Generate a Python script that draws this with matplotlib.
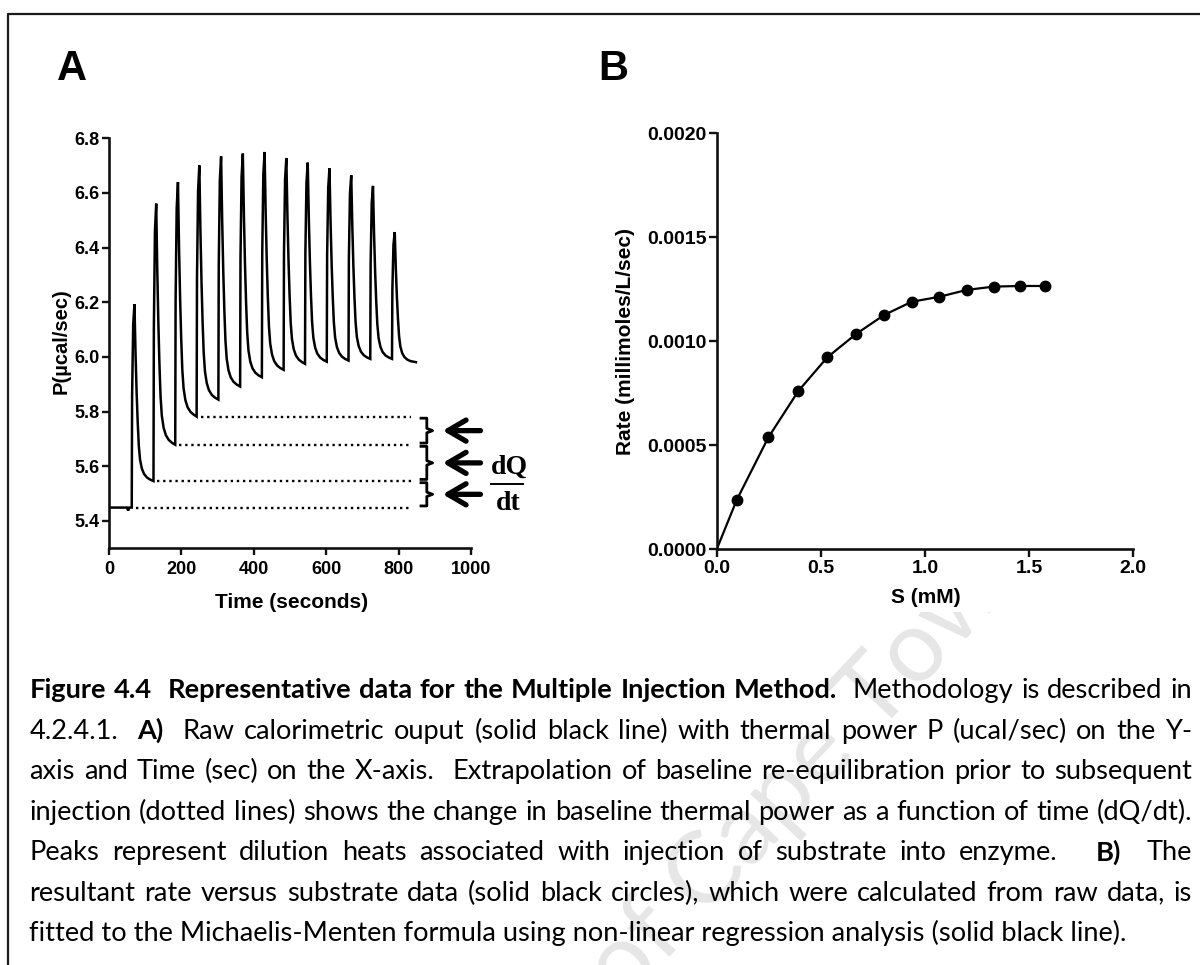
import matplotlib
matplotlib.use("Agg")
import matplotlib.pyplot as plt
from matplotlib import font_manager
from matplotlib.patches import Rectangle
from matplotlib.lines import Line2D

# ---------------- Panel A data: raw calorimetric output ----------------
injection_time = [63, 123, 183, 242, 302, 362, 422, 482, 541, 601, 661, 721, 781]
peak_power = [6.193, 6.561, 6.640, 6.701, 6.734, 6.744, 6.750, 6.728, 6.711,
              6.690, 6.665, 6.626, 6.457]
baseline_after = [5.546, 5.679, 5.782, 5.844, 5.892, 5.926, 5.953, 5.975, 5.983,
                  5.987, 5.993, 5.993, 5.981]
initial_time = [0, 50, 53, 56]
initial_power = [5.449, 5.449, 5.438, 5.449]
run_end_time = 847
# shape of one injection: offsets in s, fraction of peak height
rise_offset = [1.0, 4.0, 7.5]
rise_fraction = [0.55, 0.90, 1.0]
decay_offset = [10.5, 13.5, 16.5, 19.5, 23, 28, 34, 42, 51]
decay_fraction = [0.72, 0.50, 0.33, 0.20, 0.12, 0.07, 0.04, 0.02, 0.008]
dotted_levels = [5.449, 5.546, 5.679, 5.782]   # extrapolated baselines
a_xticks = [0, 200, 400, 600, 800, 1000]
a_yticks = [5.4, 5.6, 5.8, 6.0, 6.2, 6.4, 6.6, 6.8]

# ---------------- Panel B data: rate vs substrate ----------------
substrate_mM = [0.096, 0.248, 0.392, 0.531, 0.669, 0.803, 0.936, 1.069, 1.200,
                1.331, 1.456, 1.576]
rate = [0.000237, 0.000538, 0.000761, 0.000923, 0.001035, 0.001126, 0.001190,
        0.001214, 0.001247, 0.001263, 0.001266, 0.001266]
fit_S = [0.0, 0.096, 0.248, 0.392, 0.531, 0.669, 0.803, 0.936, 1.069, 1.200,
         1.331, 1.456, 1.576]
fit_rate = [0.0, 0.000237, 0.000538, 0.000761, 0.000923, 0.001035, 0.001126,
            0.001190, 0.001214, 0.001247, 0.001263, 0.001266, 0.001266]
b_xticks = [0.0, 0.5, 1.0, 1.5, 2.0]
b_yticks = [0.0, 0.0005, 0.0010, 0.0015, 0.0020]

caption_lines = [
    "**Figure 4.4  Representative data for the Multiple Injection Method.**  Methodology is described in",
    "4.2.4.1.  **A)**  Raw calorimetric ouput (solid black line) with thermal power P (ucal/sec) on the Y-",
    "axis and Time (sec) on the X-axis.  Extrapolation of baseline re-equilibration prior to subsequent",
    "injection (dotted lines) shows the change in baseline thermal power as a function of time (dQ/dt).",
    "Peaks represent dilution heats associated with injection of substrate into enzyme.   **B)**  The",
    "resultant rate versus substrate data (solid black circles), which were calculated from raw data, is",
    "fitted to the Michaelis-Menten formula using non-linear regression analysis (solid black line).",
]

# ---------------- fonts ----------------
names = {f.name for f in font_manager.fontManager.ttflist}
SANS = 'Liberation Sans' if 'Liberation Sans' in names else 'DejaVu Sans'
CAP = 'Lato' if 'Lato' in names else 'DejaVu Sans'
SERIF = 'Liberation Serif' if 'Liberation Serif' in names else 'DejaVu Serif'

W, H = 1200, 965
fig = plt.figure(figsize=(W / 100, H / 100), dpi=100)


def fx(px):
    return px / W


def fy(py):
    return 1 - py / H


# ---------------- watermark (partly hidden behind the opaque chart area) ----------------
fig.text(fx(815), fy(760), 'of Cape Town', rotation=47, rotation_mode='anchor',
         ha='center', va='center', fontsize=72, color='#e6e6e6', family=CAP,
         zorder=-5)
fig.add_artist(Rectangle((fx(8), fy(612)), 1 - fx(8), fy(13.5) - fy(612),
                         transform=fig.transFigure, facecolor='white',
                         edgecolor='none', zorder=-4))

# ---------------- frame ----------------
fig.add_artist(Line2D([fx(8), fx(8), fx(1200)], [fy(965), fy(13.5), fy(13.5)],
                      transform=fig.transFigure, color='#1a1a1a', lw=1.6))

# ---------------- Panel A ----------------
axA = fig.add_axes([fx(108.9), fy(548.3), (471.4 - 108.9) / W, (548.3 - 138.3) / H])

t_trace = list(initial_time)
P_trace = list(initial_power)
prev = initial_power[-1]
for i, (t0, pk, tr) in enumerate(zip(injection_time, peak_power, baseline_after)):
    t_trace.append(t0)
    P_trace.append(prev)
    for dt, f in zip(rise_offset, rise_fraction):
        t_trace.append(t0 + dt)
        P_trace.append(prev + f * (pk - prev))
    for dt, f in zip(decay_offset, decay_fraction):
        t_trace.append(t0 + dt)
        P_trace.append(tr + f * (pk - tr))
    t_next = injection_time[i + 1] if i + 1 < len(injection_time) else run_end_time
    t_trace.append(t_next)
    P_trace.append(tr)
    prev = tr

axA.plot(t_trace, P_trace, color='black', lw=1.8, solid_joinstyle='miter')
axA.set_xlim(0, 1000)
axA.set_ylim(5.3, 6.8)

# dotted extrapolated baselines
for i, lvl in enumerate(dotted_levels):
    axA.plot([injection_time[i] + 11, 833], [lvl, lvl], color='black', lw=1.7,
             ls=(0, (1, 1.6)), clip_on=False)

# brackets and arrows
for lower, upper in zip(dotted_levels[:-1], dotted_levels[1:]):
    top = upper - 0.006
    bot = lower + 0.006
    mid = (top + bot) / 2
    axA.plot([861, 877, 877, 893, 877, 877, 861],
             [top, top, mid + 0.008, mid, mid - 0.008, bot, bot],
             color='black', lw=2.0, clip_on=False, solid_joinstyle='round')
    axA.annotate('', xy=(921, mid), xytext=(1025, mid), xycoords='data',
                 annotation_clip=False,
                 arrowprops=dict(arrowstyle='->,head_length=0.65,head_width=0.38',
                                 lw=3.8, color='black', shrinkA=0, shrinkB=0,
                                 mutation_scale=20))

axA.text(1106, 5.571, 'dQ', ha='center', va='baseline', fontsize=20,
         family=SERIF, fontweight='bold', clip_on=False)
axA.text(1103, 5.439, 'dt', ha='center', va='baseline', fontsize=20,
         family=SERIF, fontweight='bold', clip_on=False)
axA.plot([1054, 1142], [5.537, 5.537], color='black', lw=1.4, clip_on=False)

axA.set_xticks(a_xticks, labels=[f"{v:g}" for v in a_xticks], fontsize=13,
               fontweight='bold', family=SANS)
axA.set_yticks(a_yticks, labels=[f"{v:.1f}" for v in a_yticks], fontsize=13,
               fontweight='bold', family=SANS)
axA.set_xlabel('Time (seconds)', fontsize=15, fontweight='bold', family=SANS,
               va='center')
axA.xaxis.set_label_coords(0.505, -0.133)
axA.set_ylabel('P(µcal/sec)', fontsize=14.5, fontweight='bold', family=SANS,
               va='center')
axA.yaxis.set_label_coords(-0.132, 0.506)

# ---------------- Panel B ----------------
axB = fig.add_axes([fx(716.7), fy(549.3), (1133.3 - 716.7) / W, (549.3 - 133.3) / H])
axB.plot(fit_S, fit_rate, color='black', lw=1.6)
axB.plot(substrate_mM, rate, 'o', color='black', ms=7.5, clip_on=False)
axB.set_xlim(0, 2.0)
axB.set_ylim(0, 0.0020)
axB.set_xticks(b_xticks, labels=[f"{v:.1f}" for v in b_xticks], fontsize=14,
               fontweight='bold', family=SANS)
axB.set_yticks(b_yticks, labels=[f"{v:.4f}" for v in b_yticks], fontsize=14,
               fontweight='bold', family=SANS)
axB.set_xlabel('S (mM)', fontsize=15, fontweight='bold', family=SANS, va='center')
axB.xaxis.set_label_coords(0.502, -0.117)
axB.set_ylabel('Rate (millimoles/L/sec)', fontsize=15, fontweight='bold',
               family=SANS, va='center')
axB.yaxis.set_label_coords(-0.220, 0.5)

for ax in (axA, axB):
    for s in ('top', 'right'):
        ax.spines[s].set_visible(False)
    for s in ('left', 'bottom'):
        ax.spines[s].set_linewidth(1.9)
        ax.spines[s].set_color('#111111')
    ax.set_facecolor('none')
axA.tick_params(direction='out', length=5, width=1.7, color='#111111')
axA.tick_params(axis='x', pad=4)
axA.tick_params(axis='y', pad=2)
axB.tick_params(direction='out', length=5.5, width=1.7, color='#111111')
axB.tick_params(axis='x', pad=2)
axB.tick_params(axis='y', pad=2)

# panel letters
fig.text(fx(57), fy(80), 'A', fontsize=30, fontweight='bold', family=SANS, va='baseline')
fig.text(fx(598), fy(80), 'B', fontsize=30, fontweight='bold', family=SANS, va='baseline')

# ---------------- caption (justified) ----------------
renderer = fig.canvas.get_renderer()


def text_width(s, bold, fs):
    t = fig.text(0, 0, s, fontsize=fs, family=CAP,
                 fontweight='bold' if bold else 'normal')
    w = t.get_window_extent(renderer).width
    t.remove()
    return w


def tokens(line):
    toks = []
    pending = 0
    for k, part in enumerate(line.split('**')):
        bold = (k % 2 == 1)
        word = ''
        for ch in part:
            if ch == ' ':
                if word:
                    toks.append((word, bold, pending))
                    pending = 0
                    word = ''
                pending += 1
            else:
                word += ch
        if word:
            toks.append((word, bold, pending))
            pending = 0
    return toks


left_px, right_px = 29.3, 1192.0
last_width_px = 1132.0 - left_px
fs_cap = 20 * last_width_px / text_width(caption_lines[-1], False, 20)
baseline0, line_step = 698.3, 40.5

for li, line in enumerate(caption_lines):
    yb = fy(baseline0 + li * line_step)
    if li == len(caption_lines) - 1:
        fig.text(fx(left_px), yb, line, fontsize=fs_cap, family=CAP, va='baseline',
                 color='black')
        continue
    toks = tokens(line)
    widths = [text_width(w, b, fs_cap) for w, b, _ in toks]
    n_gaps = sum(n for _, _, n in toks[1:])
    unit = (right_px - left_px - sum(widths)) / n_gaps
    x = left_px
    for i, ((word, bold, n), w) in enumerate(zip(toks, widths)):
        if i > 0:
            x += n * unit
        fig.text(fx(x), yb, word, fontsize=fs_cap, family=CAP, va='baseline',
                 fontweight='bold' if bold else 'normal', color='black')
        x += w

fig.savefig('out.png', dpi=100)
